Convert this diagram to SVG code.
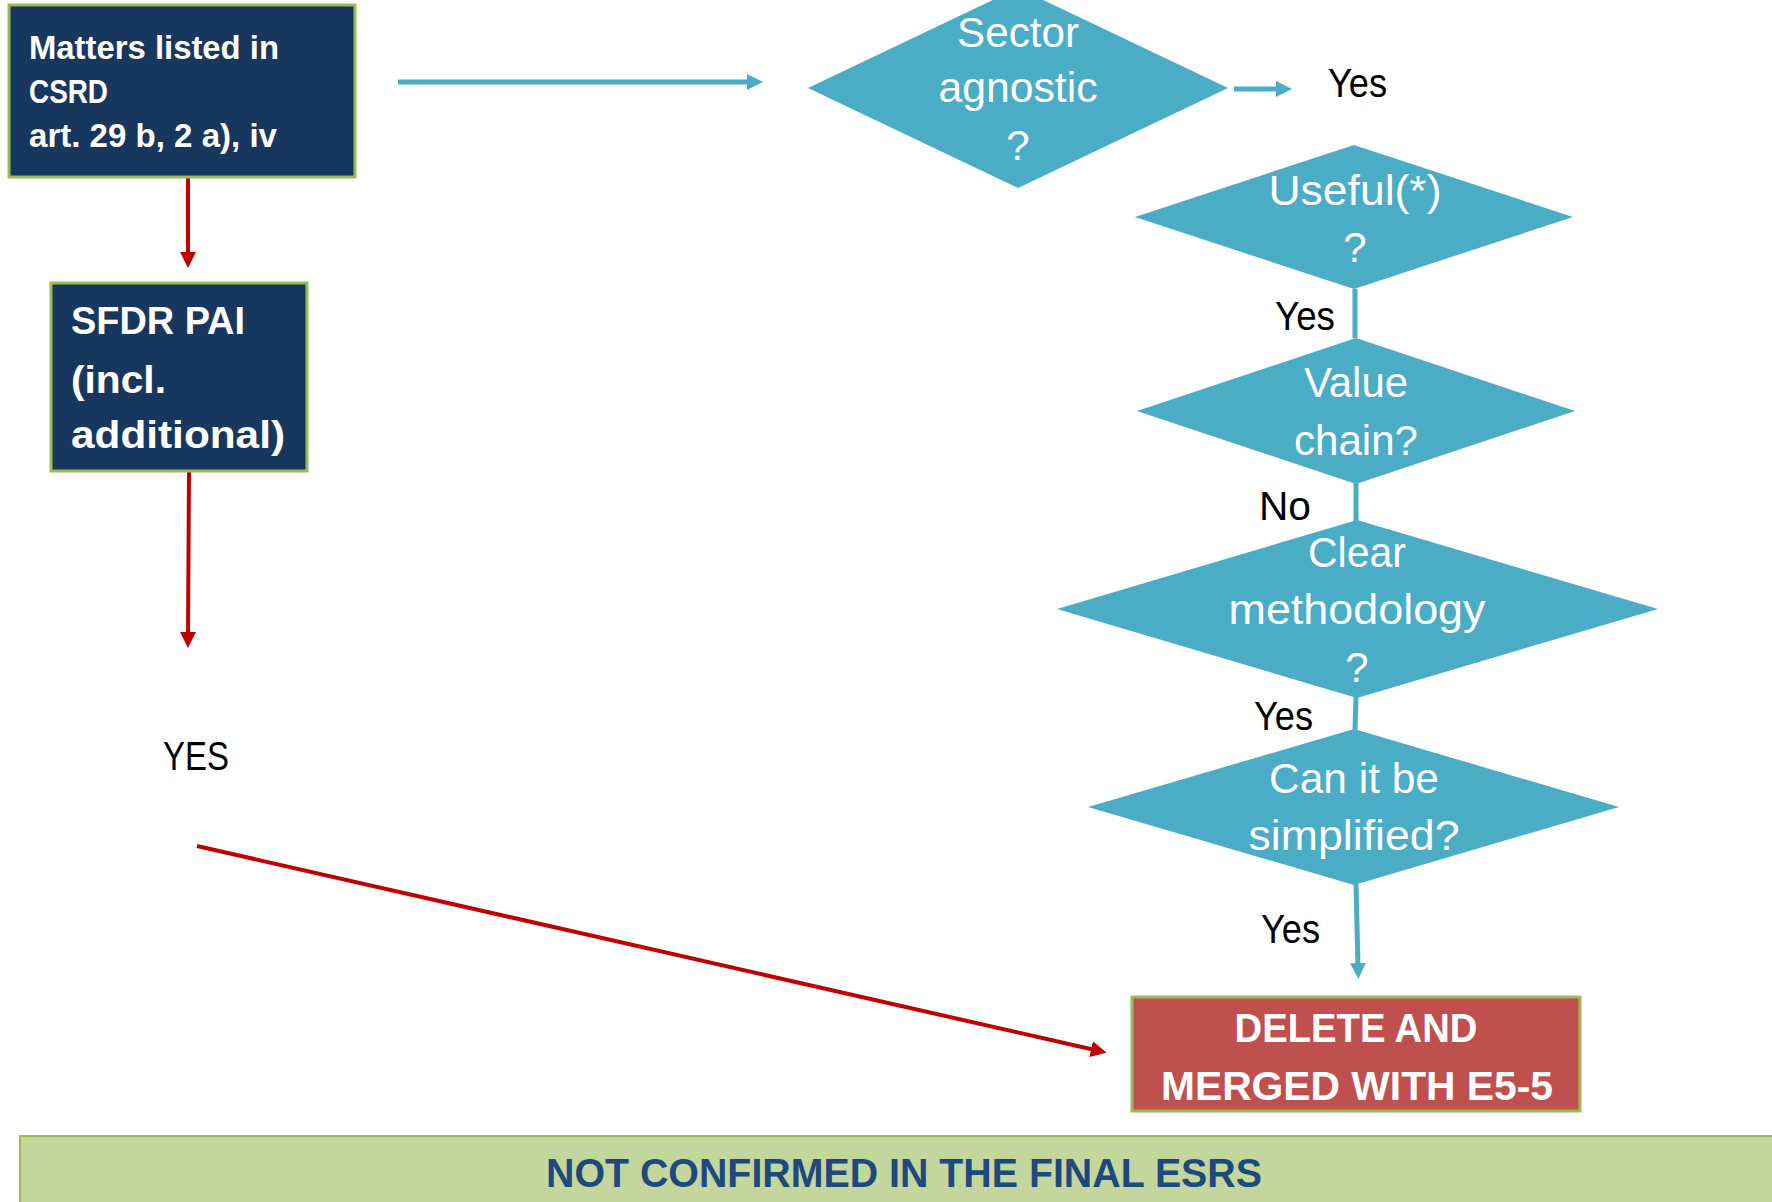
<svg xmlns="http://www.w3.org/2000/svg" width="1772" height="1202" viewBox="0 0 1772 1202">
<style>
.box{fill:#17375E;stroke:#9BBB59;stroke-width:3}
.dia{fill:#4BACC6}
.bt{font-family:"Liberation Sans",Arial,sans-serif;font-weight:bold;fill:#fff}
.dt{font-family:"Liberation Sans",Arial,sans-serif;font-size:42px;fill:#fff;text-anchor:middle}
.lb{font-family:"Liberation Sans",Arial,sans-serif;font-size:40px;fill:#000}
.tl{stroke:#4BACC6;stroke-width:5;fill:none}
.rl{stroke:#C00000;stroke-width:4;fill:none}
</style>
<defs>
<marker id="ta" markerUnits="userSpaceOnUse" markerWidth="16" markerHeight="16" refX="4" refY="8" orient="auto"><path d="M0,0 L16,8 L0,16 z" fill="#4BACC6"/></marker>
<marker id="ra" markerUnits="userSpaceOnUse" markerWidth="16" markerHeight="16" refX="4" refY="8" orient="auto"><path d="M0,0 L16,8 L0,16 z" fill="#C00000"/></marker>
</defs>
<rect width="1772" height="1202" fill="#fff"/>
<g id="connectors">
<line class="tl" x1="398" y1="82" x2="751" y2="82" stroke-width="4" marker-end="url(#ta)"/>
<line class="tl" x1="1234" y1="89" x2="1280" y2="89" stroke-width="4" marker-end="url(#ta)"/>
<line class="tl" x1="1355" y1="289" x2="1355" y2="338"/>
<line class="tl" x1="1356" y1="483" x2="1356" y2="521"/>
<line class="tl" x1="1356" y1="697" x2="1355" y2="730"/>
<line class="tl" x1="1356" y1="884" x2="1358" y2="967" marker-end="url(#ta)"/>
<line class="rl" x1="188" y1="177" x2="188" y2="256" marker-end="url(#ra)"/>
<line class="rl" x1="189" y1="471" x2="188" y2="636" marker-end="url(#ra)"/>
<line class="rl" x1="197" y1="846" x2="1095" y2="1050" marker-end="url(#ra)"/>
</g>
<g id="matters">
<rect class="box" x="9" y="5" width="346" height="172"/>
<text class="bt" font-size="33" x="29" y="59" textLength="250" lengthAdjust="spacingAndGlyphs">Matters listed in</text>
<text class="bt" font-size="33" x="29" y="103" textLength="79" lengthAdjust="spacingAndGlyphs">CSRD</text>
<text class="bt" font-size="33" x="29" y="147" textLength="248" lengthAdjust="spacingAndGlyphs">art. 29 b, 2 a), iv</text>
</g>
<g id="sfdr">
<rect class="box" x="51" y="283" width="256" height="188"/>
<text class="bt" font-size="39" x="71" y="334" textLength="174" lengthAdjust="spacingAndGlyphs">SFDR PAI</text>
<text class="bt" font-size="39" x="71" y="393" textLength="95" lengthAdjust="spacingAndGlyphs">(incl.</text>
<text class="bt" font-size="39" x="71" y="448" textLength="214" lengthAdjust="spacingAndGlyphs">additional)</text>
</g>
<g id="yes-left">
<text class="lb" font-size="42" x="163" y="770" textLength="66" lengthAdjust="spacingAndGlyphs">YES</text>
</g>
<g id="sector">
<polygon class="dia" points="1018,-12 1228,88 1018,188 808,88"/>
<text class="dt" x="1018" y="47" textLength="122" lengthAdjust="spacingAndGlyphs">Sector</text>
<text class="dt" x="1018" y="102" textLength="159" lengthAdjust="spacingAndGlyphs">agnostic</text>
<text class="dt" x="1018" y="160">?</text>
</g>
<g id="yes1"><text class="lb" x="1328" y="97" textLength="59" lengthAdjust="spacingAndGlyphs">Yes</text></g>
<g id="useful">
<polygon class="dia" points="1354,145 1573,217 1354,289 1135,217"/>
<text class="dt" x="1355" y="205" textLength="173" lengthAdjust="spacingAndGlyphs">Useful(*)</text>
<text class="dt" x="1355" y="262">?</text>
</g>
<g id="yes2"><text class="lb" x="1275" y="330" textLength="60" lengthAdjust="spacingAndGlyphs">Yes</text></g>
<g id="value">
<polygon class="dia" points="1356,338 1575,411 1356,484 1137,411"/>
<text class="dt" x="1356" y="397" textLength="104" lengthAdjust="spacingAndGlyphs">Value</text>
<text class="dt" x="1356" y="455" textLength="124" lengthAdjust="spacingAndGlyphs">chain?</text>
</g>
<g id="no"><text class="lb" x="1259" y="520" textLength="52" lengthAdjust="spacingAndGlyphs">No</text></g>
<g id="clear">
<polygon class="dia" points="1357,520 1658,609 1357,698 1057,609"/>
<text class="dt" x="1357" y="567" textLength="98" lengthAdjust="spacingAndGlyphs">Clear</text>
<text class="dt" x="1357" y="624" textLength="257" lengthAdjust="spacingAndGlyphs">methodology</text>
<text class="dt" x="1357" y="682">?</text>
</g>
<g id="yes3"><text class="lb" x="1254" y="730" textLength="59" lengthAdjust="spacingAndGlyphs">Yes</text></g>
<g id="simplify">
<polygon class="dia" points="1354,729 1619,807 1354,885 1088,807"/>
<text class="dt" x="1354" y="793" textLength="170" lengthAdjust="spacingAndGlyphs">Can it be</text>
<text class="dt" x="1354" y="850" textLength="211" lengthAdjust="spacingAndGlyphs">simplified?</text>
</g>
<g id="yes4"><text class="lb" x="1261" y="943" textLength="59" lengthAdjust="spacingAndGlyphs">Yes</text></g>
<g id="delete">
<rect x="1132" y="997" width="448" height="114" fill="#C0504D" stroke="#9BBB59" stroke-width="3"/>
<text class="bt" font-size="40" x="1356" y="1042" text-anchor="middle" textLength="243" lengthAdjust="spacingAndGlyphs">DELETE AND</text>
<text class="bt" font-size="40" x="1357" y="1100" text-anchor="middle" textLength="392" lengthAdjust="spacingAndGlyphs">MERGED WITH E5-5</text>
</g>
<g id="banner">
<rect x="20" y="1136" width="1762" height="72" fill="#C3D69B" stroke="#9BBB59" stroke-width="2"/>
<text font-family="'Liberation Sans',Arial,sans-serif" font-weight="bold" font-size="40" fill="#1F497D" x="904" y="1187" text-anchor="middle" textLength="716" lengthAdjust="spacingAndGlyphs">NOT CONFIRMED IN THE FINAL ESRS</text>
</g>
</svg>
